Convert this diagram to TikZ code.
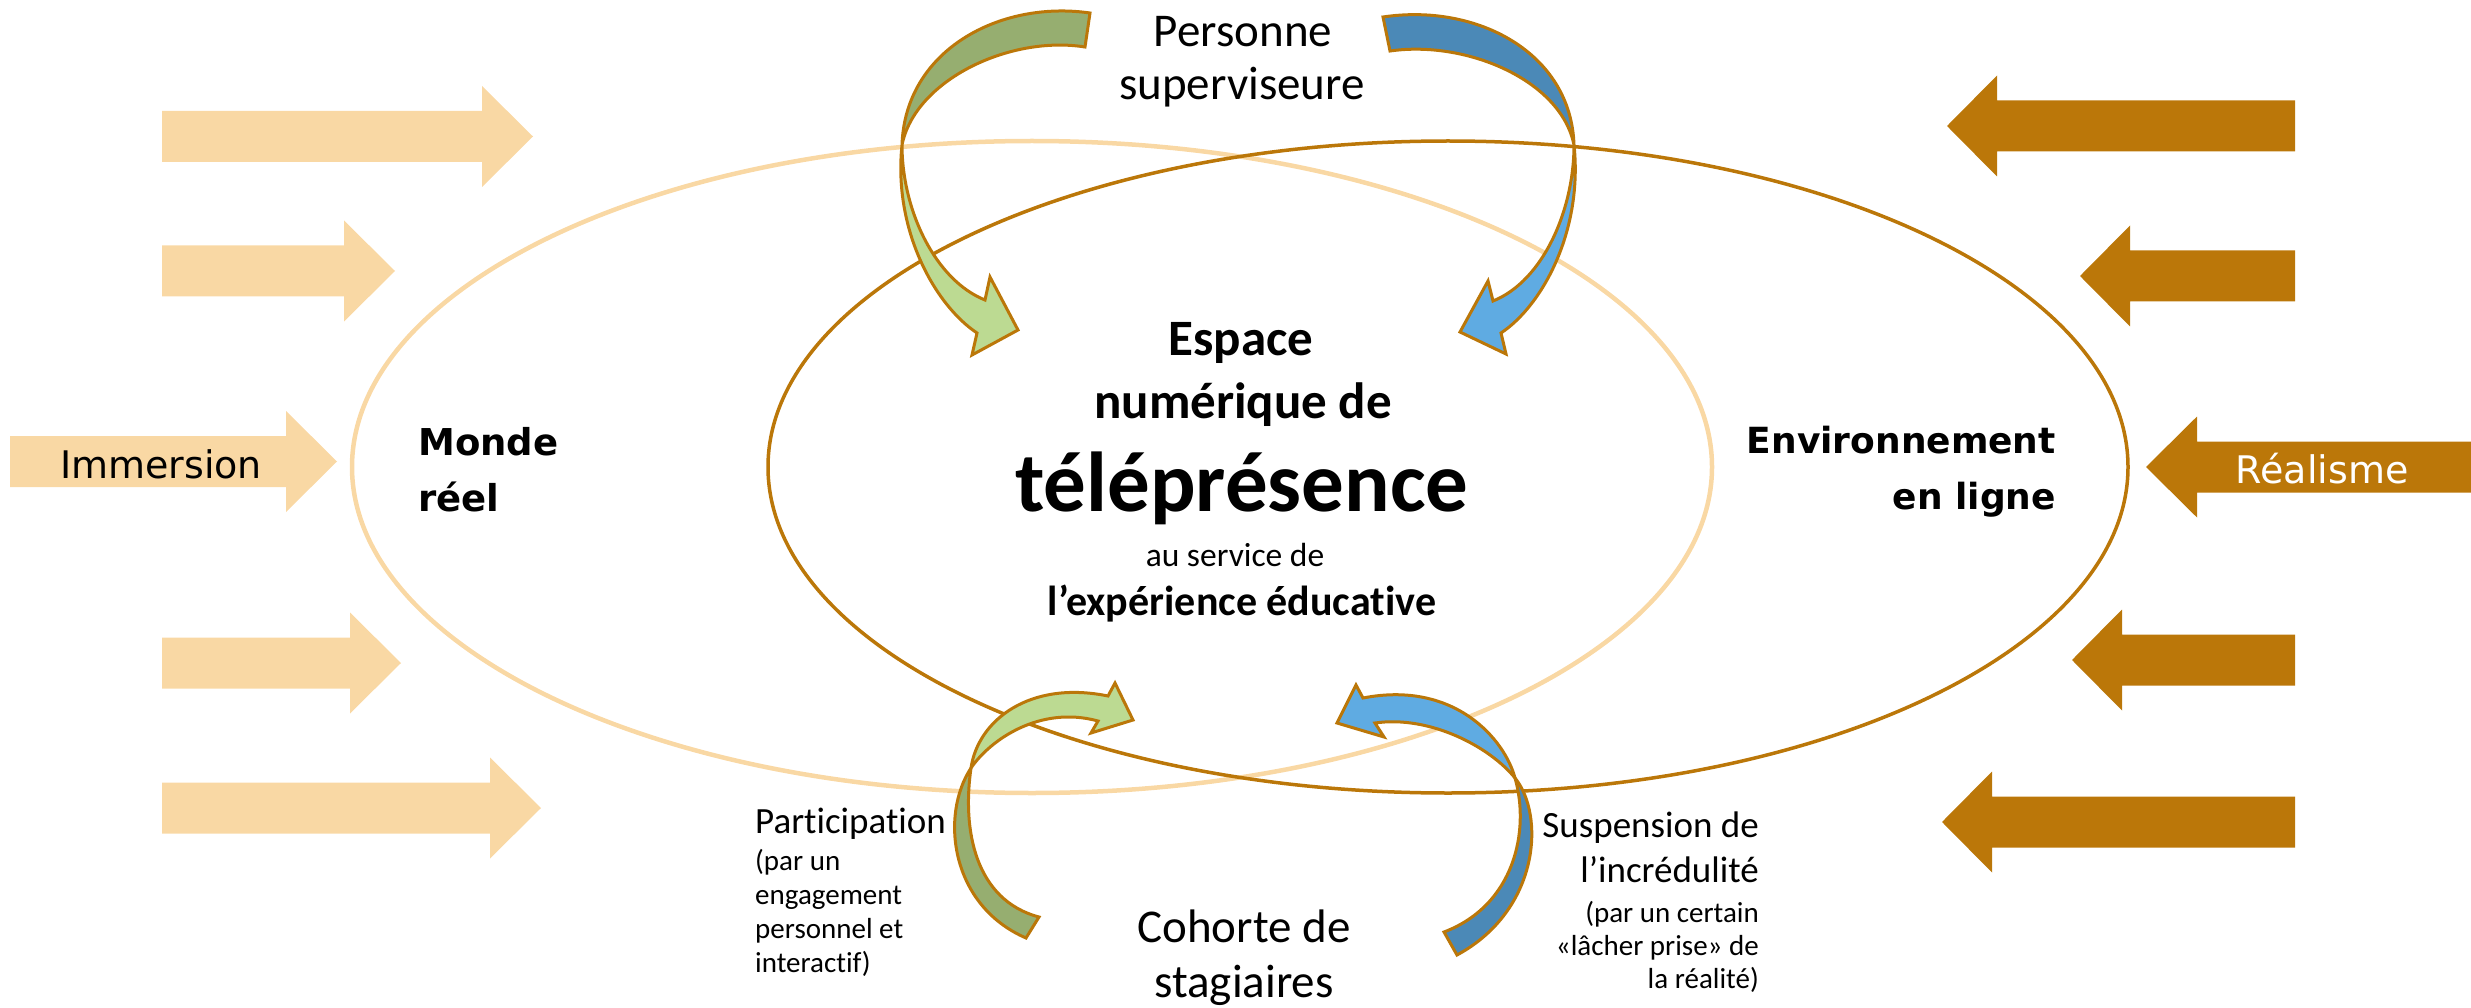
\documentclass[tikz,border=0pt]{standalone}
\usepackage{fontspec}
\setmainfont{Carlito}[Ligatures=NoCommon]
\newfontfamily\verd{DejaVu Sans}
\definecolor{peach}{RGB}{249,216,164}
\definecolor{ochre}{RGB}{187,119,9}
\definecolor{gdark}{RGB}{150,174,112}
\definecolor{glight}{RGB}{188,218,146}
\definecolor{bdark}{RGB}{75,137,183}
\definecolor{blight}{RGB}{95,171,226}
\newcommand\pRA[4]{\fill[peach] (#1,{#4-25.5}) -- (#2,{#4-25.5}) -- (#2,{#4-50.5}) -- (#3,#4) -- (#2,{#4+50.5}) -- (#2,{#4+25.5}) -- (#1,{#4+25.5}) -- cycle;}
\newcommand\oLA[4]{\fill[ochre] (#1,{#4-25.5}) -- (#2,{#4-25.5}) -- (#2,{#4-50.5}) -- (#3,#4) -- (#2,{#4+50.5}) -- (#2,{#4+25.5}) -- (#1,{#4+25.5}) -- cycle;}
\tikzset{
  curv/.style={draw=ochre, line width=3pt, line join=miter},
  txt/.style={inner sep=0pt, anchor=base},
  txtl/.style={inner sep=0pt, anchor=base west},
  txtr/.style={inner sep=0pt, anchor=base east},
  calib/.style={font=\fontsize{47}{54}\selectfont},
  small/.style={font=\fontsize{37}{44}\selectfont},
  tiny/.style={font=\fontsize{29}{34}\selectfont},
  vbold/.style={font=\verd\bfseries\fontsize{37}{44}\selectfont},
  vboldb/.style={font=\verd\bfseries\fontsize{36}{44}\selectfont},
  vreg/.style={font=\verd\fontsize{38}{44}\selectfont},
}
\begin{document}
\begin{tikzpicture}[x=1pt,y=-1pt]
\useasboundingbox (0,0) rectangle (2471,1008);
% straight arrows, left side
\pRA{162}{482}{533}{136.5}
\pRA{162}{344}{395}{271}
\pRA{10}{286}{337}{461.5}
\pRA{162}{350}{401}{663}
\pRA{162}{490}{541}{808}
% straight arrows, right side
\oLA{2295}{1997}{1947}{126}
\oLA{2295}{2130}{2080}{276}
\oLA{2471}{2197}{2146}{467}
\oLA{2295}{2122}{2072}{660}
\oLA{2295}{1992}{1942}{822}
\node[txt, vreg] (imm) at (161,478) {Immersion};
\node[txt, vreg, text=white] (real) at (2322,483) {Réalisme};
% ellipses
\draw[peach, line width=4.5pt] (1032,467) ellipse [x radius=680pt, y radius=326pt];
\draw[ochre, line width=3.5pt] (1448,467) ellipse [x radius=680pt, y radius=326pt];
% top-left green curved arrow
\path[curv, fill=gdark] (1090,13) .. controls (1000,0) and (905,50) .. (902,145) .. controls (915,80) and (1010,35) .. (1085,47) -- cycle;
\path[curv, fill=glight] (902,145) .. controls (902,210) and (935,280) .. (985,300) -- (990,277) -- (1018,330) -- (972,355) -- (977,333) .. controls (935,305) and (893,230) .. (902,145) -- cycle;
% top-right blue curved arrow
\path[curv, fill=bdark] (1383,17) .. controls (1476,3) and (1571,52) .. (1574,145) .. controls (1561,80) and (1466,40) .. (1390,51) -- cycle;
\path[curv, fill=blight] (1574,145) .. controls (1574,210) and (1543,281) .. (1493,301) -- (1488,281) -- (1460,332) -- (1506,354) -- (1501,333) .. controls (1543,305) and (1583,230) .. (1574,145) -- cycle;
% bottom-left green curved arrow
\path[curv, fill=gdark] (971,768) .. controls (940,815) and (950,905) .. (1026,938) -- (1039,917) .. controls (975,900) and (962,830) .. (971,768) -- cycle;
\path[curv, fill=glight] (971,768) .. controls (978,720) and (1030,680) .. (1108,696) -- (1115,683) -- (1133,720) -- (1091,733) -- (1098,721) .. controls (1040,705) and (990,740) .. (971,768) -- cycle;
% bottom-right blue curved arrow
\path[curv, fill=bdark] (1515,778) .. controls (1545,815) and (1540,910) .. (1457,955) -- (1444,932) .. controls (1515,905) and (1530,830) .. (1515,778) -- cycle;
\path[curv, fill=blight] (1515,778) .. controls (1505,740) and (1455,680) .. (1363,698) -- (1356,685) -- (1337,723) -- (1384,737) -- (1375,723) .. controls (1430,715) and (1490,747) .. (1515,778) -- cycle;
% texts
\node[txt, calib] (pers) at (1243,47) {Personne};
\node[txt, calib] (sup) at (1242,100) {superviseure};
\node[txtl, vbold] (monde) at (418,455) {Monde};
\node[txtl, vbold] (reel) at (418,511) {réel};
\node[txtr, vboldb] (envi) at (2056,453) {Environnement};
\node[txtr, vboldb] (ligne) at (2056,509) {en ligne};
\node[txt, font=\bfseries\fontsize{51}{58}\selectfont] (esp) at (1241,355) {Espace};
\node[txt, font=\bfseries\fontsize{51}{58}\selectfont] (num) at (1243,418) {numérique de};
\node[txt, font=\bfseries\fontsize{85}{96}\selectfont] (tele) at (1242,511) {téléprésence};
\node[txt, font=\fontsize{33.5}{40}\selectfont] (serv) at (1235,566) {au service de};
\node[txt, font=\bfseries\fontsize{42}{48}\selectfont] (expe) at (1242,615) {l’expérience éducative};
\node[txt, calib] (coh) at (1244,942) {Cohorte de};
\node[txt, calib] (stag) at (1244,997) {stagiaires};
\node[txtl, small] (part) at (755,833) {Participation};
\node[txtl, tiny] (p1) at (755,870) {(par un};
\node[txtl, tiny] (p2) at (755,904) {engagement};
\node[txtl, tiny] (p3) at (755,938) {personnel et};
\node[txtl, tiny] (p4) at (755,972) {interactif)};
\node[txtr, small] (susp) at (1759,837) {Suspension de};
\node[txtr, small] (incr) at (1759,882) {l’incrédulité};
\node[txtr, tiny] (s1) at (1759,922) {(par un certain};
\node[txtr, tiny] (s2) at (1759,955) {«lâcher prise» de};
\node[txtr, tiny] (s3) at (1759,988) {la réalité)};
\end{tikzpicture}
\end{document}
